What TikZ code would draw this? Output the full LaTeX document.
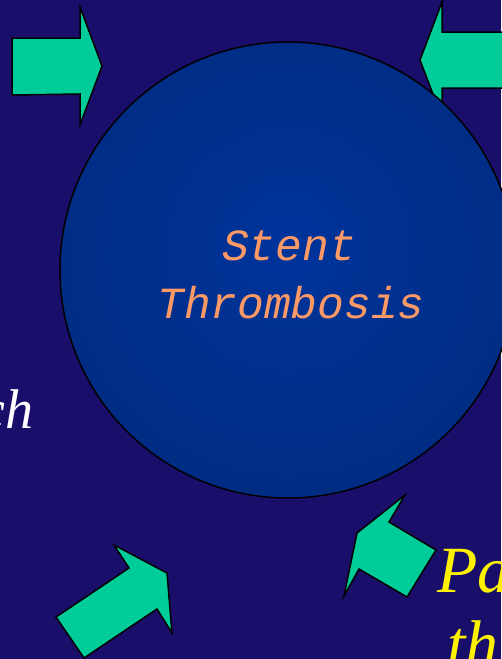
\documentclass[tikz,border=0pt]{standalone}
\usepackage{fontspec}
\newfontfamily\monoit{Liberation Mono}[ItalicFont={Liberation Mono Italic}]
\newfontfamily\serifit{Liberation Serif}
\definecolor{bgnavy}{RGB}{26,14,107}
\definecolor{arrowgreen}{RGB}{0,204,153}
\definecolor{circin}{RGB}{0,52,156}
\definecolor{circout}{RGB}{0,38,108}
\definecolor{txtorange}{RGB}{255,153,102}
\pgfdeclareradialshading{circshade}{\pgfpoint{0bp}{3bp}}{color(0bp)=(circin); color(50bp)=(circout)}
\tikzset{
  fatarrow/.style={fill=arrowgreen, draw=black, line width=1.5pt, line join=miter},
  bigtext/.style={inner sep=0pt, font=\fontsize{56}{60}\selectfont\serifit\itshape}
}
\begin{document}
\begin{tikzpicture}[x=1pt,y=-1pt]
\fill[bgnavy] (0,0) rectangle (501,659);
\useasboundingbox (0,0) rectangle (501,659);
% arrows (behind circle)
\draw[fatarrow] (12,38) -- (80,38) -- (80,7) -- (102,66) -- (80,125) -- (80,94) -- (12,95) -- cycle;
\draw[fatarrow] (420,60) -- (442,2) -- (442,32) -- (530,32) -- (530,88) -- (442,88) -- (442,118) -- cycle;
\draw[fatarrow] (405,495) -- (389,522) -- (436,550) -- (407,597) -- (359,569) -- (344,596) -- (357,533) -- cycle;
\draw[fatarrow] (114,545) -- (129,568) -- (56,617) -- (84,658) -- (157,609) -- (172,633) -- (167,573) -- cycle;
% circle
\node[circle, minimum size=456pt, inner sep=0pt, shading=circshade, draw=black, line width=1.5pt] (circ) at (288,270) {};
% texts
\node[inner sep=0pt, anchor=base, text=txtorange, font=\fontsize{44.5}{48}\selectfont\monoit\itshape] (stent) at (289,260) {Stent};
\node[inner sep=0pt, anchor=base, text=txtorange, font=\fontsize{44.5}{48}\selectfont\monoit\itshape] (thromb) at (291,318) {Thrombosis};
\node[bigtext, anchor=base east, text=white] (ch) at (34,428) {ch};
\node[bigtext, anchor=base west, text=yellow, font=\fontsize{66}{70}\selectfont\serifit\itshape] (pa) at (437,592) {Pa};
\node[bigtext, anchor=base west, text=yellow, font=\fontsize{66}{70}\selectfont\serifit\itshape] (th) at (447,666) {th};
\end{tikzpicture}
\end{document}
